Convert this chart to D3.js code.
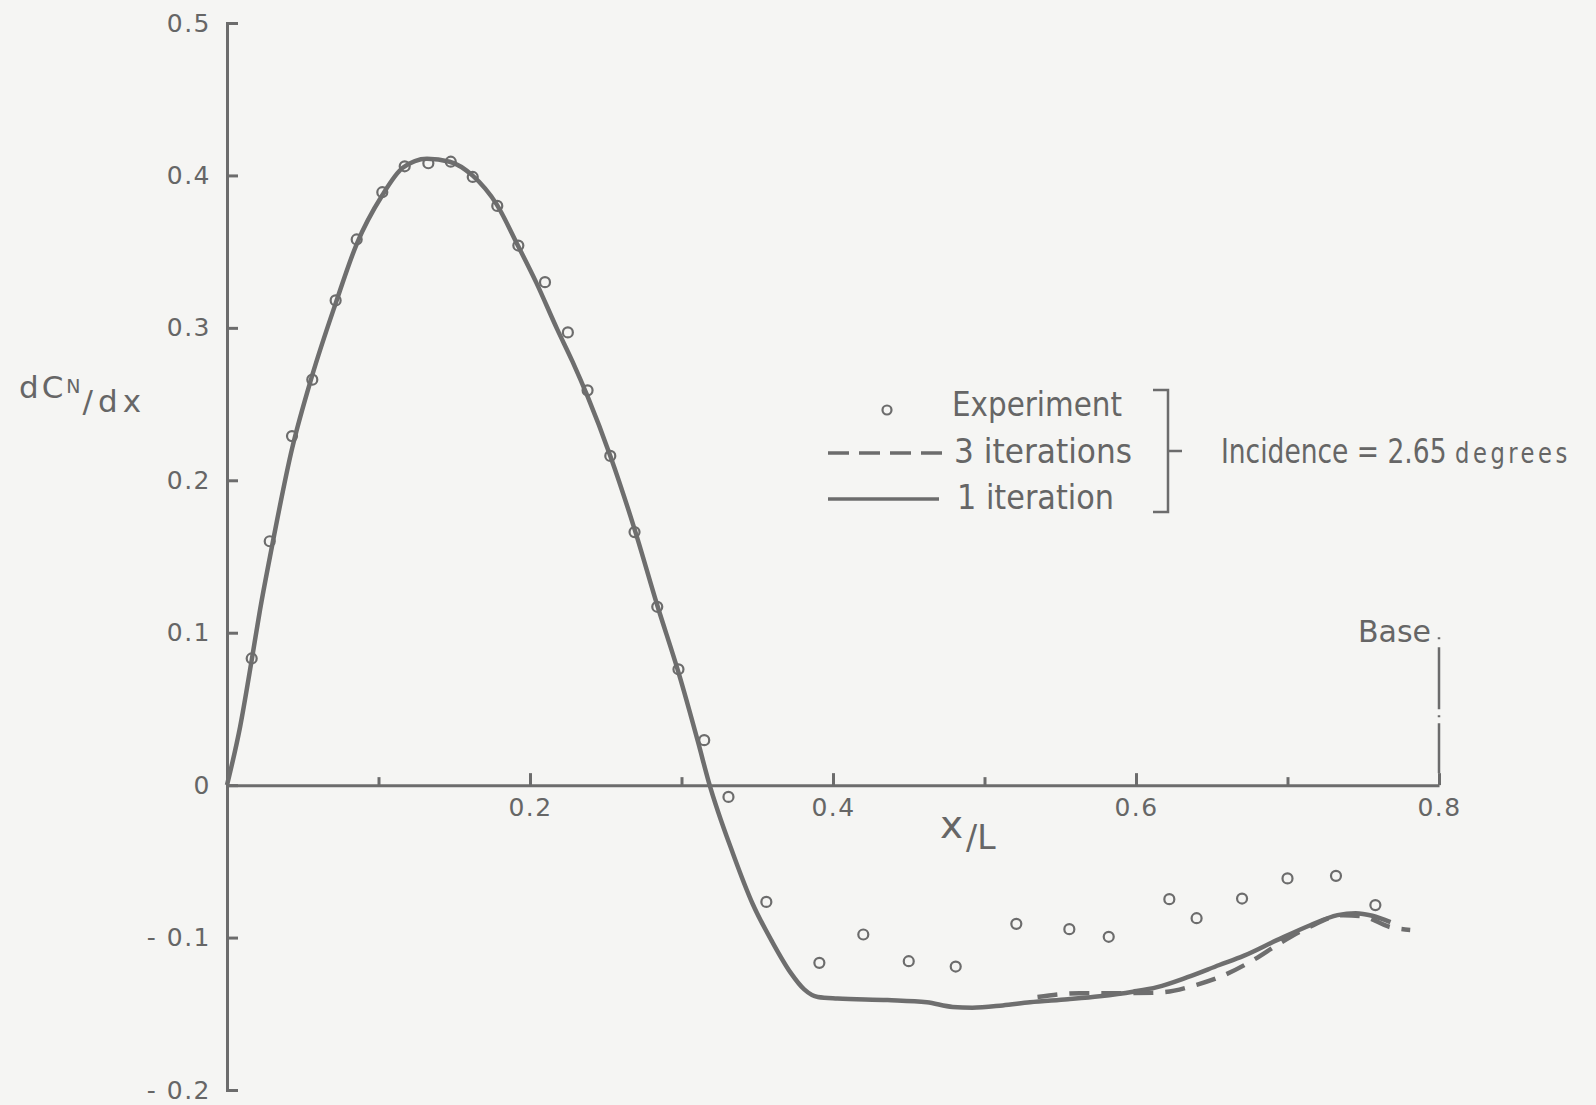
<!DOCTYPE html>
<html>
<head>
<meta charset="utf-8">
<style>
  body { margin: 0; background: #f5f5f3; }
  svg { display: block; }
  .axis .domain, .axis line { stroke: #6c6c6c; stroke-width: 3; }
  .legend text { font-family: "DejaVu Sans", sans-serif; font-size: 34px; fill: #666666; }
  .label { font-family: "DejaVu Sans", sans-serif; fill: #666666; }
</style>
</head>
<body>
<svg width="1596" height="1105"></svg>
<script src="https://d3js.org/d3.v7.min.js"></script>
<script>
// experiment points (x/L, dCN/dx)
const expX = [0.0163, 0.0282, 0.0429, 0.0563, 0.0717, 0.0856, 0.1025, 0.1173, 0.1329, 0.1477, 0.1622, 0.1784, 0.1923, 0.2099, 0.225, 0.238, 0.253, 0.269, 0.284, 0.298, 0.315, 0.331, 0.356, 0.391, 0.420, 0.450, 0.481, 0.521, 0.556, 0.582, 0.622, 0.640, 0.670, 0.700, 0.732, 0.758];
const expY = [0.0831, 0.160, 0.229, 0.266, 0.318, 0.358, 0.389, 0.406, 0.408, 0.409, 0.399, 0.380, 0.354, 0.330, 0.297, 0.259, 0.216, 0.166, 0.117, 0.076, 0.0295, -0.0077, -0.0766, -0.1166, -0.098, -0.1155, -0.119, -0.091, -0.0945, -0.0995, -0.0748, -0.0873, -0.0744, -0.0612, -0.0595, -0.0787];

// 1 iteration (solid)
const oneX = [0, 0.0086, 0.0163, 0.0218, 0.0284, 0.043, 0.056, 0.0717, 0.0856, 0.1025, 0.116, 0.132, 0.147, 0.162, 0.178, 0.192, 0.204, 0.218, 0.228, 0.238, 0.253, 0.269, 0.284, 0.298, 0.311, 0.318, 0.334, 0.347, 0.360, 0.372, 0.381, 0.390, 0.403, 0.436, 0.462, 0.479, 0.492, 0.512, 0.530, 0.555, 0.576, 0.598, 0.614, 0.634, 0.655, 0.671, 0.693, 0.715, 0.733, 0.745, 0.756, 0.768];
const oneY = [0, 0.038, 0.082, 0.115, 0.150, 0.221, 0.268, 0.316, 0.355, 0.387, 0.405, 0.411, 0.409, 0.400, 0.381, 0.354, 0.330, 0.299, 0.278, 0.255, 0.216, 0.168, 0.118, 0.074, 0.028, 0.002, -0.045, -0.078, -0.103, -0.123, -0.134, -0.139, -0.140, -0.141, -0.1425, -0.1455, -0.146, -0.1445, -0.1425, -0.1405, -0.1385, -0.1355, -0.1325, -0.126, -0.118, -0.112, -0.1017, -0.0919, -0.0853, -0.084, -0.0857, -0.0899];

// 3 iterations (dashed, only where it leaves the solid curve)
const threeX = [0.535, 0.563, 0.587, 0.616, 0.640, 0.655, 0.677, 0.695, 0.713, 0.737, 0.750, 0.768, 0.781];
const threeY = [-0.139, -0.1365, -0.1365, -0.136, -0.131, -0.126, -0.115, -0.1037, -0.0938, -0.0853, -0.0862, -0.0932, -0.095];

const yTicks = [0.5, 0.4, 0.3, 0.2, 0.1, 0, -0.1, -0.2];
const yTickLabels = ["0.5", "0.4", "0.3", "0.2", "0.1", "0", "- 0.1", "- 0.2"];
const xTicks = [0.1, 0.2, 0.3, 0.4, 0.5, 0.6, 0.7, 0.8];
const xTickLabels = ["", "0.2", "", "0.4", "", "0.6", "", "0.8"];

const ink = "#6c6c6c";
const svg = d3.select("svg");

const x = d3.scaleLinear().domain([0, 0.8]).range([227, 1439]);
const y = d3.scaleLinear().domain([-0.2, 0.5]).range([1090, 23]);

// y axis, ticks pointing inwards
svg.append("g")
  .attr("class", "axis y")
  .attr("transform", `translate(${x(0)},0)`)
  .call(d3.axisLeft(y).tickValues(yTicks).tickFormat((d, i) => yTickLabels[i])
    .tickSize(-11).tickSizeOuter(-11).tickPadding(16));

// x axis along zero
const xg = svg.append("g")
  .attr("class", "axis x")
  .attr("transform", `translate(0,${y(0)})`)
  .call(d3.axisBottom(x).tickValues(xTicks).tickFormat((d, i) => xTickLabels[i])
    .tickSize(-12).tickSizeOuter(0).tickPadding(13));
xg.selectAll(".tick line").attr("y2", (d, i) => xTickLabels[i] ? -12 : -8);

svg.selectAll(".axis text")
  .attr("font-family", "DejaVu Sans, sans-serif")
  .attr("font-size", 25)
  .attr("fill", "#666666")
  .attr("letter-spacing", 1.5);
svg.selectAll(".axis").attr("font-size", null).attr("font-family", null);

// base marker (dash-dot up from 0.8)
svg.append("line")
  .attr("x1", x(0.8)).attr("x2", x(0.8))
  .attr("y1", y(0) - 12).attr("y2", y(0.097))
  .attr("stroke", ink).attr("stroke-width", 2.5)
  .attr("stroke-dasharray", "50 6 2 6 62 8 2");
svg.append("text").attr("class", "label")
  .attr("x", x(0.8) - 8).attr("y", y(0.094))
  .attr("text-anchor", "end").attr("font-size", 30)
  .text("Base");

const line = d3.line().x(d => x(d[0])).y(d => y(d[1])).curve(d3.curveMonotoneX);

svg.append("path")
  .datum(oneX.map((v, i) => [v, oneY[i]]))
  .attr("d", line).attr("fill", "none")
  .attr("stroke", "#6e6e6e").attr("stroke-width", 4.5).attr("stroke-linejoin", "round");

svg.append("path")
  .datum(threeX.map((v, i) => [v, threeY[i]]))
  .attr("d", line).attr("fill", "none")
  .attr("stroke", "#6e6e6e").attr("stroke-width", 4.5)
  .attr("stroke-dasharray", "20 12");

svg.append("g").selectAll("circle")
  .data(expX.map((v, i) => [v, expY[i]]))
  .join("circle")
  .attr("cx", d => x(d[0])).attr("cy", d => y(d[1]))
  .attr("r", 5).attr("fill", "none")
  .attr("stroke", ink).attr("stroke-width", 2.2);

// legend
const lg = svg.append("g").attr("class", "legend");
lg.append("circle").attr("cx", 887).attr("cy", 410).attr("r", 4.5)
  .attr("fill", "none").attr("stroke", ink).attr("stroke-width", 2.2);
lg.append("text").attr("x", 952).attr("y", 416)
  .attr("textLength", 170).attr("lengthAdjust", "spacingAndGlyphs").text("Experiment");
lg.append("line").attr("x1", 828).attr("x2", 942).attr("y1", 453).attr("y2", 453)
  .attr("stroke", ink).attr("stroke-width", 3.5).attr("stroke-dasharray", "21 10");
lg.append("text").attr("x", 954).attr("y", 463)
  .attr("textLength", 178).attr("lengthAdjust", "spacingAndGlyphs").text("3 iterations");
lg.append("line").attr("x1", 828).attr("x2", 939).attr("y1", 499).attr("y2", 499)
  .attr("stroke", ink).attr("stroke-width", 3.5);
lg.append("text").attr("x", 957).attr("y", 509)
  .attr("textLength", 157).attr("lengthAdjust", "spacingAndGlyphs").text("1 iteration");
lg.append("path").attr("d", "M1153,390H1168V512H1153M1168,451H1182")
  .attr("fill", "none").attr("stroke", ink).attr("stroke-width", 2.5);

// incidence note: one condensed text, smaller "degrees"
const inc = lg.append("text").attr("transform", "translate(1221,463) scale(0.78,1)");
inc.append("tspan").text("Incidence = 2.65");
inc.append("tspan").attr("dx", 11).style("font-size", "29px")
  .attr("letter-spacing", 4.5).text("degrees");

// axis titles
const yl = svg.append("text").attr("class", "label").attr("x", 19).attr("y", 398).attr("font-size", 31);
yl.append("tspan").attr("letter-spacing", 3).text("dC");
yl.append("tspan").attr("font-size", 19).attr("dy", -5).attr("letter-spacing", 2).text("N");
yl.append("tspan").attr("dy", 19).attr("letter-spacing", 5).text("/dx");

const xl = svg.append("text").attr("class", "label").attr("x", 940).attr("y", 838).attr("font-size", 39);
xl.append("tspan").text("x");
xl.append("tspan").attr("font-size", 33).attr("dy", 11).attr("dx", 3).text("/L");
</script>
</body>
</html>
